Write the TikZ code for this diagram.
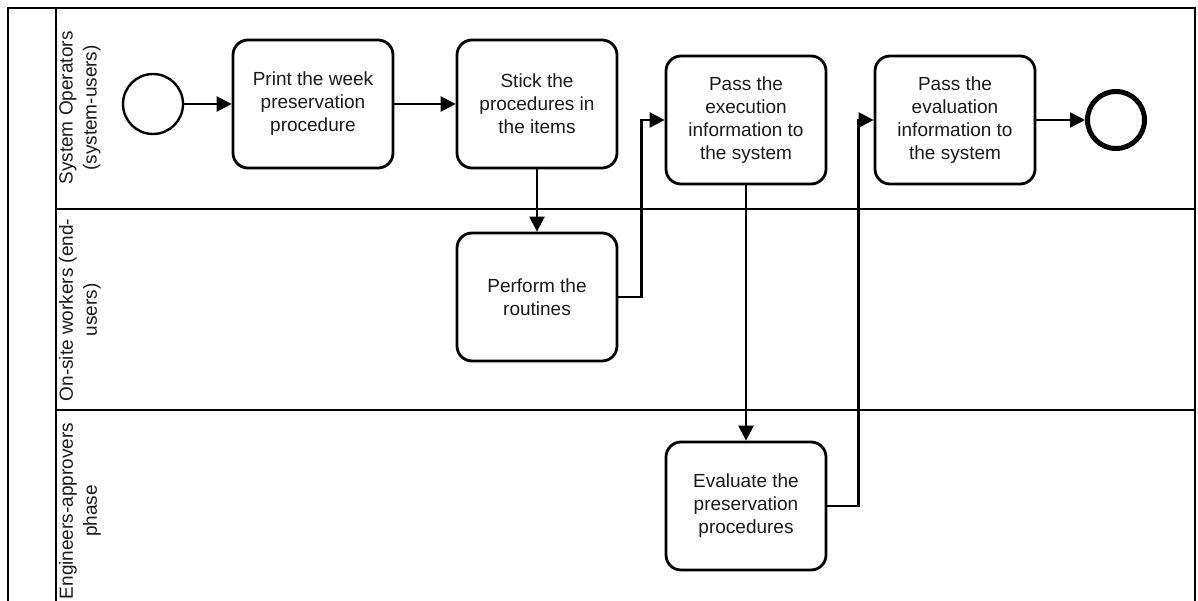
\documentclass[tikz,border=0pt]{standalone}
\usepackage{fontspec}
\setmainfont{Liberation Sans}
\usetikzlibrary{arrows.meta}

\definecolor{ink}{HTML}{1A1A1A}

\tikzset{
  task/.style={draw, line width=2.8pt, rounded corners=15pt,
    minimum width=160pt, minimum height=128pt, align=center, text=ink,
    font=\fontsize{19}{23}\selectfont, inner sep=4pt},
  startev/.style={draw, circle, line width=2.4pt, minimum size=60pt, inner sep=0pt},
  endev/.style={draw, circle, line width=5pt, minimum size=57pt, inner sep=0pt},
  flow/.style={line width=2.5pt, -{Triangle[length=15pt, width=15pt]}},
  lanelabel/.style={rotate=90, align=center, text=ink,
    font=\fontsize{19}{24}\selectfont},
  border/.style={line width=2.8pt}
}

\begin{document}
\begin{tikzpicture}[x=1pt, y=-1pt]
  \useasboundingbox (0,0) rectangle (1198,601);
  \clip (0,0) rectangle (1198,601);
  \fill[white] (0,0) rectangle (1198,601);

  % pool and lanes
  \draw[border] (8,8) rectangle (1195,640);
  \draw[border] (56,8) -- (56,640);
  \draw[border] (56,209) -- (1195,209);
  \draw[border] (56,410) -- (1195,410);

  % lane titles
  \node[lanelabel] (laneA) at (80,108) {System Operators\\(system-users)};
  \node[lanelabel] (laneB) at (80,310) {On-site workers (end-\\users)};
  \node[lanelabel] (laneC) at (80,511) {Engineers-approvers\\phase};

  % events and tasks
  \node[startev] (start) at (153,104) {};
  \node[task] (print) at (313,104) {Print the week\\preservation\\procedure};
  \node[task] (stick) at (537,104) {Stick the\\procedures in\\the items};
  \node[task] (passexec) at (746,120) {Pass the\\execution\\information to\\the system};
  \node[task] (passeval) at (955,120) {Pass the\\evaluation\\information to\\the system};
  \node[endev] (end) at (1116,120) {};
  \node[task] (perform) at (537,297) {Perform the\\routines};
  \node[task] (evaluate) at (746,506) {Evaluate the\\preservation\\procedures};

  % sequence flows
  \draw[flow] (start) -- (print);
  \draw[flow] (print) -- (stick);
  \draw[flow] (stick) -- (perform);
  \draw[flow] (perform.east) -- ++(23,0) |- (passexec.west);
  \draw[flow] (passexec) -- (evaluate);
  \draw[flow] (evaluate.east) -- ++(31,0) |- (passeval.west);
  \draw[flow] (passeval) -- (end);
\end{tikzpicture}
\end{document}
